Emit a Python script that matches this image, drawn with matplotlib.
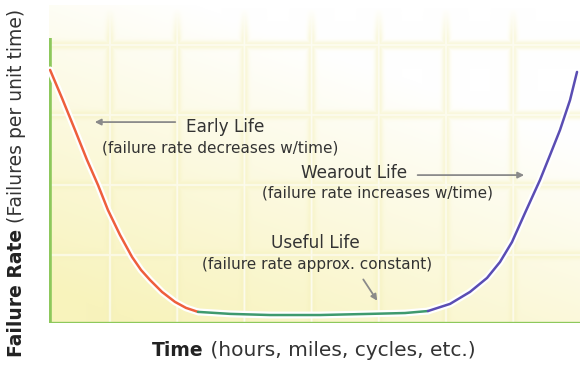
import numpy as np
import matplotlib
matplotlib.use("Agg")
import matplotlib.pyplot as plt

# ---- curve data (time on 0-100 scale, failure rate on 0-100 scale) ----
early_t = [0.2, 2.45, 4.9, 7.16, 9.23, 11.11, 13.37, 15.63, 17.33, 19.02, 21.28, 23.73, 25.8, 28.06]
early_r = [88.8, 78.9, 67.7, 57.2, 48.4, 39.6, 30.9, 23.2, 18.6, 15.1, 10.9, 7.4, 5.3, 3.9]

useful_t = [28.06, 34.09, 41.62, 51.04, 60.45, 67.04, 71.37]
useful_r = [3.9, 3.2, 2.8, 2.8, 3.2, 3.5, 4.2]

wearout_t = [71.37, 75.52, 79.28, 82.49, 84.93, 87.19, 89.64, 92.47, 94.35, 96.23, 98.12, 99.44]
wearout_r = [4.2, 6.7, 10.9, 15.8, 21.4, 28.4, 38.6, 50.2, 58.9, 67.7, 78.2, 88.1]

x_label_bold = "Time"
x_label_rest = " (hours, miles, cycles, etc.)"
y_label_bold = "Failure Rate"
y_label_rest = " (Failures per unit time)"

W, H, DPI = 580, 367, 100
fig = plt.figure(figsize=(W / DPI, H / DPI), dpi=DPI)
fig.patch.set_facecolor("white")

# axes box in pixels: left 49, right 580, bottom 323, top 5 (rate 100 sits at y=38)
ax_l, ax_r, ax_b, ax_t = 49, 580, 323, 5
ax = fig.add_axes([ax_l / W, (H - ax_b) / H, (ax_r - ax_l) / W, (ax_b - ax_t) / H])
px_per_rate = (ax_b - 38) / 100.0
ytop = (ax_b - ax_t) / px_per_rate
ax.set_xlim(0, 100)
ax.set_ylim(0, ytop)
ax.set_axis_off()

# ---- soft yellow gradient background with a pale grid ----
nx, ny = ax_r - ax_l, ax_b - ax_t
px = ax_l + np.arange(nx) + 0.5
py = ax_t + np.arange(ny) + 0.5
PX, PY = np.meshgrid(px, py)
u = (PX - ax_l) / (ax_r - ax_l)
v = (ax_b - PY) / (ax_b - 38)
s = np.clip(1.1 - 0.85 * v - 0.55 * u, 0, 1)
white = np.array([1.0, 1.0, 1.0])
yellow = np.array([248, 243, 188]) / 255.0
img = white * (1 - s[..., None]) + yellow * s[..., None]

band_col = np.array([244, 240, 186]) / 255.0
vlines = [110 + 67.2 * k for k in range(7)]
hlines = [45, 115, 185, 255]
fade_top = np.clip((PY - 8) / 30.0, 0, 1)
band = np.zeros_like(PX)
core = np.zeros_like(PX)
for g in vlines:
    d = PX - g
    band = np.maximum(band, np.exp(-(d / 4.0) ** 2) * fade_top)
    core = np.maximum(core, np.exp(-(d / 1.1) ** 2) * fade_top)
for g in hlines:
    d = PY - g
    band = np.maximum(band, np.exp(-(d / 4.0) ** 2))
    core = np.maximum(core, np.exp(-(d / 1.1) ** 2))
img = img * (1 - 0.6 * band[..., None]) + band_col * 0.6 * band[..., None]
img = img * (1 - 0.7 * core[..., None]) + white * 0.7 * core[..., None]
ax.imshow(img, extent=(0, 100, 0, ytop), origin="upper", aspect="auto",
          interpolation="bilinear", zorder=0)

# ---- axis lines ----
green = "#8dc85c"
ax.plot([0.15, 0.15], [0, 100], color=green, lw=2.6, solid_capstyle="butt", zorder=2)
ax.plot([0, 100], [0.1, 0.1], color=green, lw=2.4, solid_capstyle="butt", zorder=2)

# ---- bathtub curve with a white halo ----
segments = [(early_t, early_r, "#ee5f3c"),
            (useful_t, useful_r, "#3f9a6e"),
            (wearout_t, wearout_r, "#5a4db3")]
for t, r, c in segments:
    ax.plot(t, r, color="white", lw=5.0, solid_capstyle="round", solid_joinstyle="round", zorder=3)
for t, r, c in segments:
    ax.plot(t, r, color=c, lw=1.8, solid_capstyle="round", solid_joinstyle="round", zorder=4)

# ---- phase annotations ----
txt = "#333333"
arrow_col = "#8a8a8a"
fam = "DejaVu Sans"
big, small = 12.2, 11.0

ax.text(33.1, 68.8, "Early Life", ha="center", va="center", fontsize=big, color=txt, family=fam, zorder=5)
ax.text(32.2, 61.4, "(failure rate decreases w/time)", ha="center", va="center", fontsize=small,
        color=txt, family=fam, zorder=5)
ax.annotate("", xy=(8.1, 70.5), xytext=(24.3, 70.5),
            arrowprops=dict(arrowstyle="-|>", color=arrow_col, lw=1.3, mutation_scale=9), zorder=5)

ax.text(57.5, 52.6, "Wearout Life", ha="center", va="center", fontsize=big, color=txt, family=fam, zorder=5)
ax.text(61.8, 45.6, "(failure rate increases w/time)", ha="center", va="center", fontsize=small,
        color=txt, family=fam, zorder=5)
ax.annotate("", xy=(90.0, 51.9), xytext=(68.9, 51.9),
            arrowprops=dict(arrowstyle="-|>", color=arrow_col, lw=1.3, mutation_scale=9), zorder=5)

ax.text(50.1, 28.1, "Useful Life", ha="center", va="center", fontsize=big, color=txt, family=fam, zorder=5)
ax.text(50.5, 20.4, "(failure rate approx. constant)", ha="center", va="center", fontsize=small,
        color=txt, family=fam, zorder=5)
ax.annotate("", xy=(62.1, 7.0), xytext=(58.9, 16.1),
            arrowprops=dict(arrowstyle="-|>", color=arrow_col, lw=1.3, mutation_scale=9), zorder=5)

# ---- axis titles: bold lead word followed by a regular-weight note ----
renderer = fig.canvas.get_renderer()
tb = fig.text(152 / W, 1 - 350 / H, x_label_bold, ha="left", va="center", fontsize=13.5,
              fontweight="bold", color="#222222", family=fam)
bb = tb.get_window_extent(renderer)
fig.text(bb.x1 / W, 1 - 350 / H, x_label_rest, ha="left", va="center", fontsize=14.5,
         color="#333333", family=fam)

yb = fig.text(17 / W, 1 - 357 / H, y_label_bold, ha="center", va="bottom", rotation=90,
              fontsize=13.5, fontweight="bold", color="#222222", family=fam)
bb = yb.get_window_extent(renderer)
fig.text(17 / W, bb.y1 / H, y_label_rest, ha="center", va="bottom", rotation=90,
         fontsize=13.5, color="#333333", family=fam)

fig.savefig("out.png", dpi=DPI, facecolor="white")
